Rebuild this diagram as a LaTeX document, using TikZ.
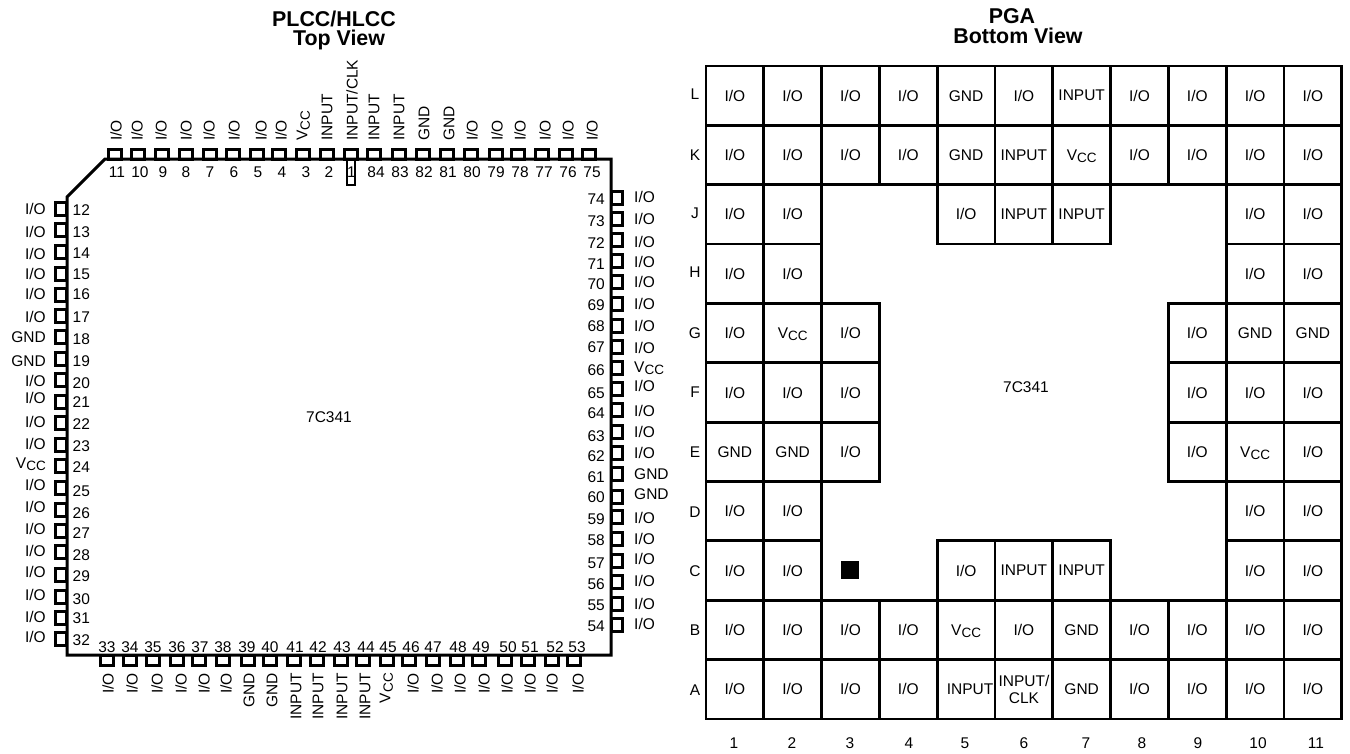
\documentclass[tikz,border=0pt]{standalone}
\usepackage{fontspec}
\setmainfont{Liberation Sans}
\usepackage{tikz}

\newcommand{\io}{I/O}
\newcommand{\gnd}{GND}
\newcommand{\inp}{INPUT}
\newcommand{\inpkern}{\hspace*{8pt}INPUT}
\newcommand{\inpclk}{INPUT/\\CLK}
\newcommand{\vcc}{V\smash{\raisebox{-2.5pt}{\fontsize{13.5}{14}\selectfont CC}}}

\tikzset{
	padbox/.style={draw,line width=2.7pt,inner sep=0pt,outer sep=0pt},
	pintext/.style={inner sep=0pt},
	gridcell/.style={draw,line width=2.8pt,inner sep=0pt,outer sep=0pt,align=center,minimum width=57.8pt,minimum height=59.36pt},
	titletext/.style={inner sep=0pt,anchor=base,font=\fontsize{21.4}{22}\selectfont\bfseries},
}

\begin{document}
\begin{tikzpicture}[x=1pt,y=-1pt,font=\fontsize{15.5}{17}\selectfont]

\useasboundingbox (0,0) rectangle (1350,753);

\node[titletext] (plcctitle) at (334,26) {PLCC/HLCC};
\node[titletext] (plccview) at (339,45) {Top View};
\node[titletext] (pgatitle) at (1012,23.5) {PGA};
\node[titletext] (pgaview) at (1018,43.5) {Bottom View};

\draw[line width=3pt] (105,159) -- (611,159) -- (611,655) -- (67,655) -- (67,197) -- cycle;

\foreach \n/\px/\nx/\lx/\txt in {11/115/117/116/\io,10/138/140/137/\io,9/162/163/161/\io,8/186/186/186/\io,7/210/210/209/\io,6/233/234/234/\io,5/257/258/261/\io,4/279/282/281/\io,3/303/306/302/\vcc,2/327/329/327/\inp,84/374/376/374/\inp,83/399/400/399/\inp,82/423/424/424/\gnd,81/447/448/449/\gnd,80/471/472/472/\io,79/496/496/497/\io,78/518/520/520/\io,77/542/544/545/\io,76/566/568/568/\io,75/589/592/592/\io}{
	\node[padbox,minimum width=12.5pt,minimum height=10pt] (pad\n) at (\px,154.5) {};
	\node[pintext] (num\n) at (\nx,172) {\n};
	\node[pintext,rotate=90,anchor=west] (lab\n) at (\lx,141) {\txt};
}

\node[padbox,minimum width=12.5pt,minimum height=10pt] (pad1) at (351,154.5) {};
\node[padbox,line width=2pt,minimum width=8.5pt,minimum height=26pt] (padbar1) at (351,172) {};
\node[pintext] (num1) at (351.5,172) {1};
\node[pintext,rotate=90,anchor=west] (lab1) at (352,141) {INPUT/CLK};

\foreach \n/\py/\ny/\ly/\txt in {12/209/210/209/\io,13/230/232/232/\io,14/252/253/254/\io,15/274/274/274/\io,16/295/294/294/\io,17/316/317/317/\io,18/337/339/337/\gnd,19/359/361/361/\gnd,20/380/383/381/\io,21/402/402/398/\io,22/423/424/422/\io,23/445/446/444/\io,24/466/467/463/\vcc,25/488/491/485/\io,26/510/513/507/\io,27/531/533/529/\io,28/552/555/551/\io,29/575/576/572/\io,30/597/599/595/\io,31/618/618/617/\io,32/639/640/637/\io}{
	\node[padbox,minimum width=11pt,minimum height=12.5pt] (pad\n) at (61,\py) {};
	\node[pintext,anchor=west] (num\n) at (72.5,\ny) {\n};
	\node[pintext,anchor=east] (lab\n) at (46,\ly) {\txt};
}

\foreach \n/\px/\nx/\lx/\txt in {33/107/107/108/\io,34/130/130/132/\io,35/153/153/157/\io,36/177/177/181/\io,37/199/200/204/\io,38/223/223/226/\io,39/248/247/249/\gnd,40/270/270/272/\gnd,41/294/295/296/\inp,42/317/318/318/\inp,43/341/342/342/\inp,44/363/366/365/\inp,45/387/388/385/\vcc,46/409/411/413/\io,47/433/433/437/\io,48/457/458/460/\io,49/479/481/484/\io,50/505/508/507/\io,51/528/530/530/\io,52/552/555/552/\io,53/574/577/578/\io}{
	\node[padbox,minimum width=12.5pt,minimum height=10pt] (pad\n) at (\px,660.5) {};
	\node[pintext] (num\n) at (\nx,647) {\n};
	\node[pintext,rotate=90,anchor=east] (lab\n) at (\lx,673) {\txt};
}

\foreach \n/\py/\ny/\ly/\txt in {74/198/199/197/\io,73/219/221/219/\io,72/240/243/242/\io,71/261/264/262/\io,70/282/284/282/\io,69/304/305/304/\io,68/326/326/326/\io,67/347/347/348/\io,66/368/370/367/\vcc,65/389/393/386/\io,64/410/413/411/\io,63/432/436/432/\io,62/453/456/453/\io,61/474/477/474/\gnd,60/497/497/494/\gnd,59/517/519/518/\io,58/539/540/539/\io,57/561/563/559/\io,56/582/584/581/\io,55/604/605/604/\io,54/625/626/624/\io}{
	\node[padbox,minimum width=11.5pt,minimum height=12.5pt] (pad\n) at (617,\py) {};
	\node[pintext,anchor=east] (num\n) at (605,\ny) {\n};
	\node[pintext,anchor=west] (lab\n) at (634,\ly) {\txt};
}

\node[pintext] (plccchip) at (329,417) {7C341};

\foreach \r/\rowname/\rowy/\cells in {
	1/L/94/{1/\io,2/\io,3/\io,4/\io,5/\gnd,6/\io,7/\inp,8/\io,9/\io,10/\io,11/\io},
	2/K/155/{1/\io,2/\io,3/\io,4/\io,5/\gnd,6/\inp,7/\vcc,8/\io,9/\io,10/\io,11/\io},
	3/J/213/{1/\io,2/\io,5/\io,6/\inp,7/\inp,10/\io,11/\io},
	4/H/272/{1/\io,2/\io,10/\io,11/\io},
	5/G/333/{1/\io,2/\vcc,3/\io,9/\io,10/\gnd,11/\gnd},
	6/F/392/{1/\io,2/\io,3/\io,9/\io,10/\io,11/\io},
	7/E/452/{1/\gnd,2/\gnd,3/\io,9/\io,10/\vcc,11/\io},
	8/D/512/{1/\io,2/\io,10/\io,11/\io},
	9/C/571/{1/\io,2/\io,5/\io,6/\inp,7/\inp,10/\io,11/\io},
	10/B/630/{1/\io,2/\io,3/\io,4/\io,5/\vcc,6/\io,7/\gnd,8/\io,9/\io,10/\io,11/\io},
	11/A/690/{1/\io,2/\io,3/\io,4/\io,5/\inpkern,6/\inpclk,7/\gnd,8/\io,9/\io,10/\io,11/\io}}{
	\node[pintext] (row\rowname) at (695,\rowy) {\rowname};
	\foreach \c/\txt in \cells {
		\node[gridcell] (cell\rowname\c) at ({706+57.8*(\c-0.5)},{66+59.36*(\r-0.5)}) {\txt};
	}
}

\foreach \c/\cx in {1/734,2/792,3/850,4/909,5/965,6/1024,7/1086,8/1142,9/1198,10/1258,11/1316}{
	\node[pintext] (col\c) at (\cx,743) {\c};
}

\node[pintext] (pgachip) at (1026,387) {7C341};
\node[fill=black,inner sep=0pt,minimum size=18pt] (pgamark) at (850,570) {};

\end{tikzpicture}
\end{document}
